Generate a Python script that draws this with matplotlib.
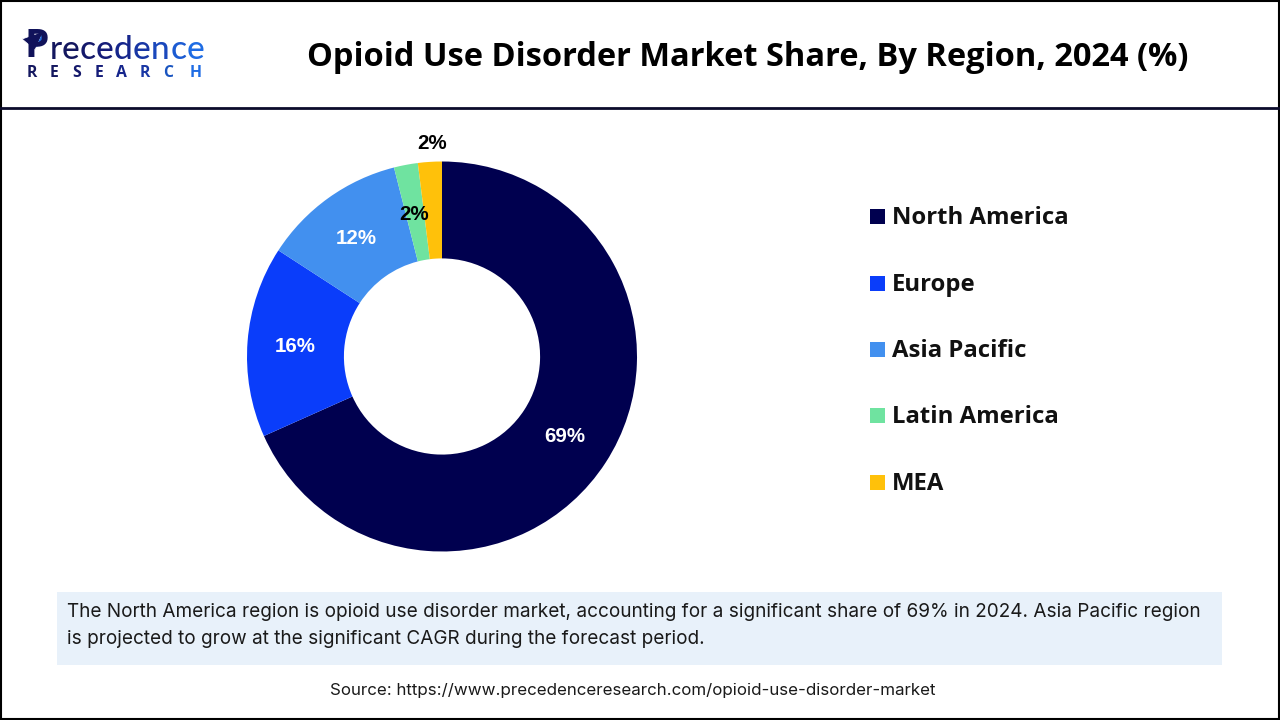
import matplotlib
matplotlib.use('Agg')
import matplotlib.pyplot as plt
from matplotlib.patches import Rectangle, Polygon

regions = ['North America', 'Europe', 'Asia Pacific', 'Latin America', 'MEA']
shares = [69, 16, 12, 2, 2]
colors = ['#00004F', '#0A3DFA', '#4290EF', '#6FE3A0', '#FFC10A']
label_colors = ['white', 'white', 'white', 'black', 'black']

title = 'Opioid Use Disorder Market Share, By Region, 2024 (%)'
note = ['The North America region is opioid use disorder market, accounting for a significant share of 69% in 2024. Asia Pacific region',
        'is projected to grow at the significant CAGR during the forecast period.']
source = 'Source: https://www.precedenceresearch.com/opioid-use-disorder-market'

W, H = 1280, 720
fig = plt.figure(figsize=(W/100, H/100), dpi=100, facecolor='white')

# whole-figure axes in pixel coords, y going down like the picture
bg = fig.add_axes([0, 0, 1, 1])
bg.set_xlim(0, W)
bg.set_ylim(H, 0)
bg.axis('off')

bg.add_patch(Rectangle((0.5, 0.5), W-1.5, H-1.5, fill=False, ec='black', lw=1.5))
bg.plot([0, W], [108, 108], color='#0B0B2B', lw=2)
bg.add_patch(Rectangle((57, 592), 1165, 73, fc='#E8F1FA', ec='none'))

bg.text(747.5, 57, title, ha='center', va='center', fontsize=23.5, fontweight='bold',
        family='Open Sans', color='black')

# logo
logo_p = '#10125A'
bg.text(24, 57, 'P', fontsize=28, fontweight='bold', family='Open Sans', color=logo_p,
        ha='left', va='baseline')
bg.add_patch(Polygon([[22, 39], [44, 31], [35, 50]], fc=logo_p, ec='white', lw=0.6))
bg.add_patch(Polygon([[36, 47], [43, 32], [41, 45]], fc='#1F6FE0', ec='none'))
letters = 'recedence'
xs = [50, 62, 80, 96, 114, 133, 151, 171, 187]
letter_cols = ['#14175F', '#14175F', '#14186A', '#151C78', '#16268C', '#1836A4', '#1A48BC', '#1C5BD2', '#1E6CE4']
for ch, x, c in zip(letters, xs, letter_cols):
    bg.text(x, 59, ch, fontsize=24, fontweight='medium', family='Lato', color=c, ha='left', va='baseline')
word = 'RESEARCH'
xw = [27, 50, 72, 95, 116, 140, 163, 190]
word_cols = ['#14175F', '#14175F', '#14186A', '#151C78', '#16268C', '#1836A4', '#1A55C0', '#1E6CE4']
for ch, x, c in zip(word, xw, word_cols):
    bg.text(x, 77, ch, fontsize=11.3, fontweight='bold', family='Open Sans', color=c,
            ha='left', va='baseline')

# donut
cx, cy, R = 442, 356.5, 195
ax = fig.add_axes([(cx-R)/W, 1-(cy+R)/H, 2*R/W, 2*R/H])
wedges, _ = ax.pie(shares, colors=colors, startangle=90, counterclock=False, radius=1,
                   wedgeprops=dict(width=0.497, ec='none'))
ax.set_xlim(-1, 1)
ax.set_ylim(-1, 1)
ax.set_aspect('equal')
ax.patch.set_alpha(0)

label_xy = [(564.5, 437), (295.5, 346), (356.5, 239), (414.5, 214.5), (432.5, 143.5)]
for s, (x, y), c in zip(shares, label_xy, label_colors):
    bg.text(x, y, '%d%%' % s, ha='center', va='center', fontsize=14.8, fontweight='bold',
            family='Liberation Sans', color=c, zorder=5)
bg.set_zorder(2)
bg.patch.set_alpha(0)

# legend
leg_y = [216, 283, 349, 415, 482]
for name, c, y in zip(regions, colors, leg_y):
    bg.add_patch(Rectangle((870, y-7), 15, 15, fc=c, ec='none'))
    bg.text(892, y+2, name, ha='left', va='center', fontsize=17.2, fontweight='bold',
            family='Open Sans', color='#111111')

bg.text(67, 612, note[0], ha='left', va='center', fontsize=13.67, family='Inter', color='#1A1A1A')
bg.text(67, 639, note[1], ha='left', va='center', fontsize=13.67, family='Inter', color='#1A1A1A')
bg.text(633, 690, source, ha='center', va='center', fontsize=12.2, family='Inter', color='#1A1A1A')

fig.savefig('out.png', dpi=100)
